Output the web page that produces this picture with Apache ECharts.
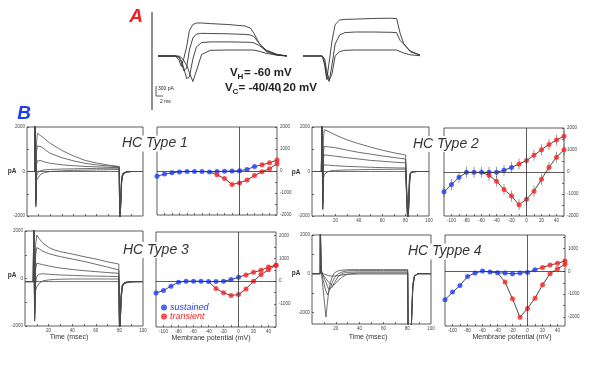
<!DOCTYPE html>
<html><head><meta charset="utf-8">
<script src="https://cdn.jsdelivr.net/npm/echarts@6/dist/echarts.min.js"></script>
<style>html,body{margin:0;padding:0;background:#fff}#c{width:600px;height:366px}</style>
</head><body><div id="c"></div>
<script>
// ---------- Panel A (pA vs ms) ----------
const TA = [0,5,6,6.7,7.4,8.2,9,10,11,12.5,15,20,25,26.5,27.5,29,31,34,37];
const aL1 = [0,0,-130,-350,-80,300,850,1050,1100,1100,1080,1050,1000,930,760,430,150,30,0];
const aL2 = [0,0,-50,-200,-500,-400,200,600,730,755,750,740,720,700,650,420,200,60,0];
const aL3 = [0,0,-30,-150,-400,-750,-700,-100,300,450,470,470,460,455,440,350,180,50,0];
const aL4 = [0,0,0,-50,-150,-300,-550,-850,-500,50,190,200,200,200,195,160,90,30,0];
const TB = [0,5.5,6.2,6.8,7.5,8.3,9.2,10.5,12,15,20,25,26.8,27.8,28.8,30.7,33.5];
const aR1 = [0,0,-300,-780,-200,500,1050,1200,1220,1230,1250,1260,1250,760,420,140,30];
const aR2 = [0,0,-200,-700,-850,-300,400,700,780,800,800,790,780,520,400,170,30];
const aR3 = [0,0,-100,-500,-800,-600,0,150,190,200,200,200,200,150,100,40,10];

// ---------- Panel B current traces (pA vs msec) ----------
const T1 = [0,6.5,7,7.6,8.2,9,10,12,15,20,30,40,50,60,70,79.5,80,80.6,81.5,82.5,84,86,90,100];
const t1Tr1 = [0,0,2500,-1500,1300,1720,1680,1600,1480,1270,950,700,500,380,290,225,-2500,-2500,-600,-200,-80,-30,0,0];
const t1Tr2 = [0,0,2500,-1400,900,1150,1190,1120,1000,820,620,480,370,295,250,210,-2500,-2500,-500,-180,-70,-20,0,0];
const t1Tr3 = [0,0,2500,-1300,300,480,510,490,430,370,300,260,230,210,190,170,-2500,-2500,-450,-150,-60,-20,0,0];
const t1Tr4 = [0,0,2000,-1200,-200,-100,0,40,70,90,110,120,130,140,145,150,-2500,-2500,-400,-120,-50,-10,0,0];
const t1Tr5 = [0,0,2000,-1600,-400,-330,-250,-120,-50,0,30,50,60,70,80,90,-2500,-2500,-350,-100,-40,-10,0,0];
const t1Tr6 = [0,0,2500,-1000,0,0,0,0,0,0,0,0,0,0,0,0,-2500,-2500,-300,-80,-30,0,0,0];

const T2 = [0,8,8.5,9.2,9.8,10.5,12,15,20,30,40,50,60,70,80,81.5,82,82.6,83.3,84,85,86,90,100];
const t2Tr1 = [0,0,2500,-1700,1500,1880,1850,1780,1640,1420,1250,1100,960,840,740,715,-2500,-2500,-700,-150,-40,0,0,0];
const t2Tr2 = [0,0,2500,-1500,900,1130,1120,1100,1070,960,860,780,700,630,560,540,-2500,-2500,-600,-130,-30,0,0,0];
const t2Tr3 = [0,0,2500,-1400,600,750,740,720,690,620,560,500,460,420,390,380,-2500,-2500,-500,-110,-20,0,0,0];
const t2Tr4 = [0,0,2200,-1200,200,300,290,280,260,230,210,190,175,165,155,150,-2500,-2500,-400,-90,-20,0,0,0];
const t2Tr5 = [0,0,2000,-1700,-300,-150,-50,20,50,70,80,90,95,100,105,105,-2500,-2500,-350,-80,-10,0,0,0];
const t2Tr6 = [0,0,2500,-1000,0,0,0,0,0,0,0,0,0,0,0,0,-2500,-2500,-300,-60,-10,0,0,0];

const T3 = [0,7,7.4,8.2,9,10,12,15,20,25,30,40,50,60,70,79.5,80.2,80.8,81.5,82.5,84,87,90,100];
const t3Tr1 = [-130,-130,2500,-1700,1400,1830,1680,1500,1310,1200,1130,1030,920,820,700,610,-2500,-2500,-900,-350,-220,-170,-140,-130];
const t3Tr2 = [-130,-130,2500,-1500,1000,1300,1250,1150,1050,980,920,820,720,600,480,360,-2500,-2500,-850,-330,-210,-160,-140,-130];
const t3Tr3 = [-130,-130,2400,-1400,400,650,620,580,530,480,440,380,330,290,250,220,-2500,-2500,-800,-310,-200,-150,-135,-130];
const t3Tr4 = [-130,-130,2200,-1300,-200,100,180,200,180,160,150,130,110,100,90,80,-2500,-2500,-750,-300,-190,-150,-135,-130];
const t3Tr5 = [-130,-130,2000,-1800,-500,-350,-200,-100,-60,-40,-30,-20,-20,-20,-20,-20,-2500,-2500,-700,-280,-180,-145,-130,-130];
const t3Tr6 = [-130,-130,2500,-1000,-130,-130,-130,-130,-130,-130,-130,-130,-130,-130,-130,-130,-2500,-2500,-650,-260,-170,-140,-130,-130];

const T4 = [0,6.9,7,7.6,8.5,10,11.7,13,14,15.5,17,19,22,26,30,40,60,80.4,80.8,83.3,84.7,86.1,89,100];
const t4Tr1 = [0,0,2500,500,-300,-1200,-2240,-1500,-900,-450,-150,50,150,190,205,210,210,210,-3000,-3000,-750,-140,0,0];
const t4Tr2 = [0,0,2500,400,-100,-500,-900,-1100,-1000,-750,-450,-200,0,100,150,158,158,158,-3000,-3000,-700,-130,0,0];
const t4Tr3 = [0,0,2500,300,0,-200,-450,-650,-800,-850,-700,-450,-150,20,70,88,88,88,-3000,-3000,-650,-120,0,0];
const t4Tr4 = [0,0,2500,200,0,-100,-250,-350,-450,-550,-600,-550,-350,-150,-20,35,35,35,-3000,-3000,-600,-110,0,0];
const t4Tr5 = [0,0,2500,100,0,-20,-50,-80,-100,-120,-130,-120,-100,-60,-30,-17,-17,-17,-3000,-3000,-550,-100,0,0];

// ---------- Panel B I-V curves (pA vs mV) ----------
const VOLT = [-110,-100,-90,-80,-70,-60,-50,-40,-30,-20,-10,0,10,20,30,40,50];
const t1Blue   = [-240,-140,-85,-40,-25,-25,-25,-40,-25,-15,0,15,70,200,null,null,null];
const t1RedUp  = [null,null,null,null,null,null,null,null,null,null,null,null,null,null,285,370,500];
const t1RedLow = [null,null,null,null,null,null,null,null,-170,-340,-610,-540,-410,-210,-30,100,330];
const t2Blue   = [-900,-570,-240,-15,-15,-15,-15,-15,75,210,null,null,null,null,null,null,null];
const t2RedUp  = [null,null,null,null,null,null,null,null,null,null,360,520,760,1015,1255,1450,1630];
const t2RedLow = [null,null,null,null,null,null,-150,-420,-800,-1090,-1490,-1240,-870,-330,220,670,1015];
const t3Blue   = [-510,-405,-215,-45,0,0,0,-15,-15,0,70,175,null,null,null,null,null];
const t3RedUp  = [null,null,null,null,null,null,null,null,null,null,null,null,275,390,480,620,700];
const t3RedLow = [null,null,null,null,null,null,null,null,-320,-505,-625,-580,-335,0,290,500,700];
const t4Blue   = [-1250,-910,-620,-220,-75,15,-30,-60,-75,-105,-75,-45,75,null,null,null,null];
const t4RedUp  = [null,null,null,null,null,null,null,null,null,null,null,null,null,175,280,355,455];
const t4RedLow = [null,null,null,null,null,null,null,null,-470,-1205,-2015,-1630,-1175,-590,-105,120,310];

// ---------- tick labels ----------
const CUR_XTICKS = [10,20,30,40,50,60,70,80,90];
const CUR_XLABELS = [20,40,60,80,100];
const CUR_YTICKS = [-2000,-1000,0,1000,2000];
const CUR_YLABELS = [-2000,0,2000];
const IV_XTICKS = [-100,-90,-80,-70,-60,-50,-40,-30,-20,-10,0,10,20,30,40];
const IV_XLABELS = [-100,-80,-60,-40,-20,0,20,40];
const IV_YTICKS = [-2000,-1500,-1000,-500,0,500,1000,1500,2000];
const IV_YLABELS_A = [-2000,-1000,0,1000,2000];
const IV_YLABELS_3 = [-1000,0,1000,2000];
const IV_YLABELS_4 = [-2000,-1000,0,1000];

const FF = 'Liberation Sans, Arial, sans-serif';
const BLUE = '#1f3cff', RED = '#ff1f1f';

const grids = [
  {left:158, top:14, width:129, height:78},
  {left:303, top:14, width:117, height:78},
  {left:27, top:127, width:116, height:89},
  {left:157, top:127, width:120, height:88},
  {left:312, top:127, width:117, height:89},
  {left:444, top:128, width:120, height:88},
  {left:25, top:231, width:118, height:95},
  {left:156, top:232, width:120, height:95},
  {left:312, top:235, width:119, height:89},
  {left:445, top:235, width:120, height:91}
].map((g,i)=>Object.assign(g, i<2 ? {show:false} : {show:true, borderColor:'#333', borderWidth:0.8, backgroundColor:'transparent'}));

const xAxes = [], yAxes = [], series = [];
const fmt = v => String(v);
const noLine = {show:false, onZero:false};

function hiddenAxes(gi, xmax) {
  xAxes.push({gridIndex:gi, type:'value', min:0, max:xmax, show:false});
  yAxes.push({gridIndex:gi, type:'value', min:-1200, max:1400, show:false});
}
function curAxes(gi, ymin, ymax, showX) {
  xAxes.push({gridIndex:gi, type:'value', position:'bottom', min:0, max:100, axisLine:noLine, splitLine:{show:false},
    axisTick:{inside:true, length:2, customValues:CUR_XTICKS, lineStyle:{color:'#333', width:0.7}},
    axisLabel:{show:showX, customValues:CUR_XLABELS, fontSize:4.5, margin:2, color:'#444', fontFamily:FF, formatter:fmt}});
  yAxes.push({gridIndex:gi, type:'value', position:'left', min:ymin, max:ymax, axisLine:noLine, splitLine:{show:false},
    axisTick:{inside:true, length:2, customValues:CUR_YTICKS, lineStyle:{color:'#333', width:0.7}},
    axisLabel:{customValues:CUR_YLABELS, fontSize:4.5, margin:2, color:'#444', fontFamily:FF, formatter:fmt}});
}
function ivAxes(gi, ymin, ymax, ylabels, showX) {
  xAxes.push({gridIndex:gi, type:'value', position:'bottom', min:-110, max:50, axisLine:noLine, splitLine:{show:false},
    axisTick:{inside:true, length:2, customValues:IV_XTICKS, lineStyle:{color:'#333', width:0.7}},
    axisLabel:{show:showX, customValues:IV_XLABELS, fontSize:4.5, margin:2, color:'#444', fontFamily:FF, formatter:fmt}});
  yAxes.push({gridIndex:gi, type:'value', position:'right', min:ymin, max:ymax, axisLine:noLine, splitLine:{show:false},
    axisTick:{inside:true, length:2, customValues:IV_YTICKS.filter(v=>v>=ymin&&v<=ymax), lineStyle:{color:'#333', width:0.7}},
    axisLabel:{customValues:ylabels, fontSize:4.5, margin:3, color:'#444', fontFamily:FF, formatter:fmt}});
}
function traces(gi, times, list, color, width) {
  list.forEach(vals => series.push({type:'line', xAxisIndex:gi, yAxisIndex:gi, symbol:'none', silent:true,
    data: vals.map((v,i)=>[times[i], v]), lineStyle:{color:color||'#4a4a4a', width:width||0.8}, z:2}));
}
function ivSeries(gi, blue, redUp, redLow, errBars) {
  const upper = blue.map((v,i)=> v!=null ? v : redUp[i]);
  const lower = redLow.map((v,i)=> (v==null && redLow[i+1]!=null) ? upper[i] : v);
  const pts = arr => VOLT.map((x,i)=>[x, arr[i]]).filter(p=>p[1]!=null);
  series.push({type:'line', xAxisIndex:gi, yAxisIndex:gi, symbol:'none', silent:true, data:pts(upper),
    lineStyle:{color:'#333', width:0.9}, z:2,
    markLine:{silent:true, symbol:'none', label:{show:false}, lineStyle:{color:'#333', width:0.8, type:'solid'},
      data:[{yAxis:0},{xAxis:0}]}});
  series.push({type:'line', xAxisIndex:gi, yAxisIndex:gi, symbol:'none', silent:true, data:pts(lower),
    lineStyle:{color:'#333', width:0.9}, z:2});
  if (errBars) {
    series.push({type:'scatter', xAxisIndex:gi, yAxisIndex:gi, silent:true, symbol:'rect', symbolSize:[0.8,11],
      data: pts(upper).concat(pts(redLow)), itemStyle:{color:'#666'}, z:3});
  }
  series.push({type:'scatter', name:'sustained', xAxisIndex:gi, yAxisIndex:gi, silent:true, symbolSize:5,
    data:pts(blue), itemStyle:{color:BLUE}, z:4});
  series.push({type:'scatter', name:'transient', xAxisIndex:gi, yAxisIndex:gi, silent:true, symbolSize:5,
    data:pts(redUp).concat(pts(redLow)), itemStyle:{color:RED}, z:4});
}

hiddenAxes(0, 37); traces(0, TA, [aL1,aL2,aL3,aL4], '#333', 0.9);
hiddenAxes(1, 33.5); traces(1, TB, [aR1,aR2,aR3], '#333', 0.9);
curAxes(2, -2000, 2000, false); traces(2, T1, [t1Tr1,t1Tr2,t1Tr3,t1Tr4,t1Tr5,t1Tr6]);
ivAxes(3, -2000, 2000, IV_YLABELS_A, false); ivSeries(3, t1Blue, t1RedUp, t1RedLow, false);
curAxes(4, -2000, 2000, true); traces(4, T2, [t2Tr1,t2Tr2,t2Tr3,t2Tr4,t2Tr5,t2Tr6]);
ivAxes(5, -2000, 2000, IV_YLABELS_A, true); ivSeries(5, t2Blue, t2RedUp, t2RedLow, true);
curAxes(6, -2000, 2000, true); traces(6, T3, [t3Tr1,t3Tr2,t3Tr3,t3Tr4,t3Tr5,t3Tr6]);
ivAxes(7, -2000, 2150, IV_YLABELS_3, true); ivSeries(7, t3Blue, t3RedUp, t3RedLow, false);
curAxes(8, -2600, 2000, true); traces(8, T4, [t4Tr1,t4Tr2,t4Tr3,t4Tr4,t4Tr5]);
ivAxes(9, -2400, 1600, IV_YLABELS_4, true); ivSeries(9, t4Blue, t4RedUp, t4RedLow, false);

function txt(text, x, y, o) {
  return {type:'text', z:10, style:Object.assign({text, x, y, fill:'#222', fontFamily:FF, fontSize:10,
    textAlign:'left', textVerticalAlign:'middle'}, o||{})};
}
const graphic = [
  {type:'line', shape:{x1:152,y1:12,x2:152,y2:110}, style:{stroke:'#222', lineWidth:1}},
  {type:'polyline', shape:{points:[[156,86],[156,96],[163,96]]}, style:{stroke:'#333', lineWidth:0.8, fill:null}},
  txt('300 pA', 158, 89, {fontSize:5}),
  txt('2 ms', 160, 102, {fontSize:5}),
  txt('A', 136, 17, {fontSize:19, fontWeight:'bold', fontStyle:'italic', fill:'#ee2222', textAlign:'center'}),
  txt('B', 24, 114, {fontSize:19, fontWeight:'bold', fontStyle:'italic', fill:'#1f3fe6', textAlign:'center'}),
  txt('V', 230, 72.5, {fontSize:11.5, fontWeight:'bold'}),
  txt('H', 237.5, 76.5, {fontSize:8, fontWeight:'bold'}),
  txt('= -60 mV', 244, 72.5, {fontSize:11.5, fontWeight:'bold'}),
  txt('V', 225, 88, {fontSize:11.5, fontWeight:'bold'}),
  txt('C', 232.5, 92, {fontSize:8, fontWeight:'bold'}),
  txt('= -40/40', 238.5, 88, {fontSize:11.5, fontWeight:'bold'}),
  txt('i', 279, 91, {fontSize:8, fontWeight:'bold'}),
  txt('20 mV', 283, 88, {fontSize:11.5, fontWeight:'bold'}),
  txt('pA', 12, 171, {fontSize:6.5, textAlign:'center', fontWeight:'bold', fill:'#333'}),
  txt('pA', 296, 172, {fontSize:6.5, textAlign:'center', fontWeight:'bold', fill:'#333'}),
  txt('pA', 12, 275, {fontSize:6.5, textAlign:'center', fontWeight:'bold', fill:'#333'}),
  txt('pA', 296, 273, {fontSize:6.5, textAlign:'center', fontWeight:'bold', fill:'#333'}),
  txt('HC Type 1', 120, 143.5, {fontSize:14, fontStyle:'italic', fill:'#333', backgroundColor:'#fff', padding:[1,2]}),
  txt('HC Type 2', 411, 144, {fontSize:14, fontStyle:'italic', fill:'#333', backgroundColor:'#fff', padding:[1,2]}),
  txt('HC Type 3', 121, 250, {fontSize:14, fontStyle:'italic', fill:'#333', backgroundColor:'#fff', padding:[1,2]}),
  txt('HC Typpe 4', 406, 251.5, {fontSize:14, fontStyle:'italic', fill:'#333', backgroundColor:'#fff', padding:[1,2]}),
  txt('Time (msec)', 69, 337, {fontSize:7, textAlign:'center', fill:'#333'}),
  txt('Time (msec)', 368, 337, {fontSize:7, textAlign:'center', fill:'#333'}),
  txt('Membrane potential (mV)', 211, 338, {fontSize:7, textAlign:'center', fill:'#333'}),
  txt('Membrane potential (mV)', 512, 337, {fontSize:7, textAlign:'center', fill:'#333'})
];

const chart = echarts.init(document.getElementById('c'), null, {renderer:'canvas'});
chart.setOption({
  animation:false,
  backgroundColor:'#fff',
  grid:grids, xAxis:xAxes, yAxis:yAxes, series,
  legend:{data:[{name:'sustained', textStyle:{color:BLUE}}, {name:'transient', textStyle:{color:RED}}],
    orient:'vertical', left:161, top:303, itemWidth:6, itemHeight:6, itemGap:0, icon:'circle', padding:0,
    selectedMode:false, textStyle:{fontSize:9, fontStyle:'italic', fontFamily:FF, padding:[0,0,0,-2]}},
  graphic
});
</script></body></html>
